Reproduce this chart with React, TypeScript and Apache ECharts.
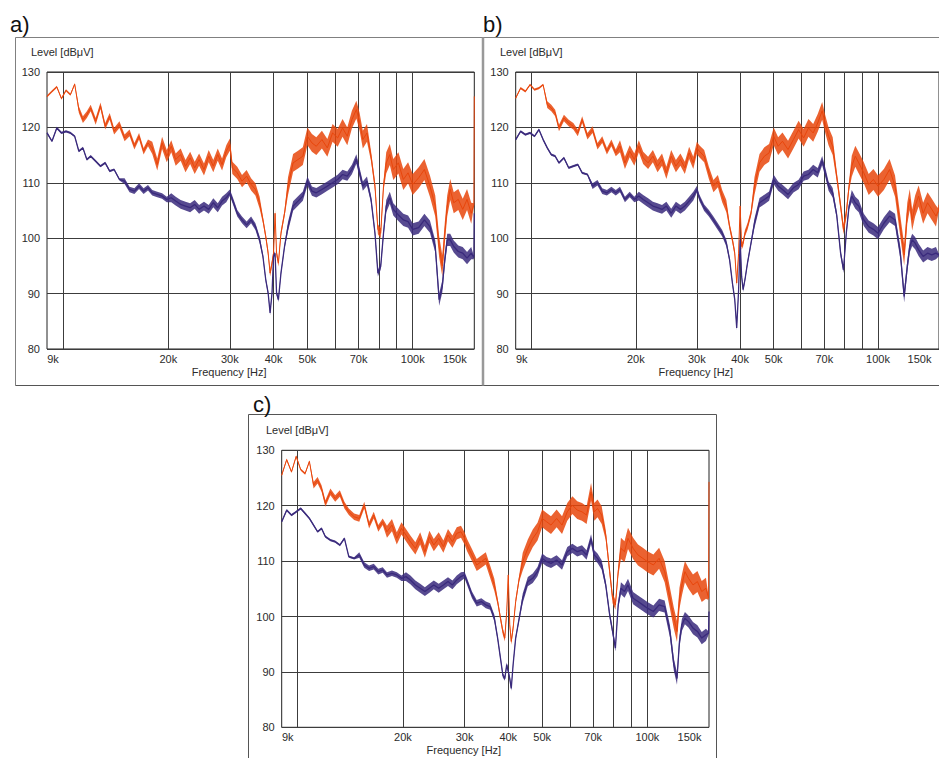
import React, { useEffect, useRef } from 'react';
import * as echarts from 'echarts';

// Frequencies in kHz shared by all traces
const FREQ_KHZ = [9, 9.3, 9.6, 9.9, 10.2, 10.5, 10.8, 11.1, 11.4, 11.7, 12, 12.4, 12.8, 13.2, 13.6, 14, 14.5, 15, 15.5, 16, 16.5, 17, 17.5, 18, 18.6, 19.2, 19.8, 20.4, 21, 21.7, 22.4, 23.1, 23.8, 24.5, 25.3, 26.1, 26.9, 27.7, 28.5, 29.3, 30, 30.5, 31.5, 32.5, 33.5, 34.5, 35.5, 36.5, 37.3, 38, 38.6, 39.1, 39.6, 40, 40.4, 40.8, 41.3, 42, 43, 44, 45.5, 47, 48.5, 50, 51.5, 53, 55, 57, 59, 61, 63, 65, 67, 69, 70.5, 72, 74, 76, 78, 79.5, 81, 82.5, 84, 86, 88, 91, 94, 97, 100, 104, 108, 112, 116, 119, 121.5, 123.5, 125.5, 128, 131, 135, 139, 143, 147, 149.6, 150];

const A_ORANGE = [125.6, 126.5, 127.3, 125.2, 126.7, 125.9, 127.8, 123.2, 121.4, 122.3, 123.5, 121.1, 123.9, 120.2, 122.0, 119.3, 120.5, 118.1, 119.0, 116.6, 118.4, 115.7, 117.2, 116.3, 113.3, 117.2, 114.8, 116.6, 114.2, 115.1, 113.0, 114.5, 112.7, 114.2, 112.4, 114.8, 113.0, 115.1, 113.3, 115.7, 116.9, 112.7, 111.8, 110.3, 111.2, 109.7, 108.8, 106.4, 103.3, 100.3, 97.3, 93.7, 95.5, 97.3, 104.5, 97.3, 95.5, 100.9, 104.5, 109.4, 113.6, 114.2, 114.8, 118.4, 117.2, 116.6, 117.8, 116.3, 119.0, 118.1, 119.9, 118.4, 121.4, 123.2, 121.0, 117.8, 119.0, 114.8, 109.4, 101.6, 100.9, 109.4, 113.6, 115.1, 112.4, 113.6, 110.6, 111.8, 109.7, 110.9, 112.4, 109.4, 105.8, 98.5, 95.0, 100.9, 105.8, 108.8, 106.4, 107.0, 105.2, 107.0, 104.5, 106.0, 125.6];
const A_PURPLE = [119.0, 117.5, 119.9, 119.0, 119.3, 119.0, 118.4, 115.7, 116.3, 114.2, 114.8, 113.9, 113.0, 113.6, 112.1, 112.4, 110.6, 110.3, 108.8, 108.5, 109.4, 108.5, 109.1, 108.2, 107.9, 107.6, 107.0, 107.3, 106.7, 106.1, 105.8, 105.5, 106.1, 105.2, 105.8, 105.2, 106.4, 105.5, 106.7, 107.3, 108.2, 107.0, 104.5, 103.3, 102.4, 103.3, 102.1, 99.7, 96.7, 92.5, 90.1, 86.5, 90.1, 96.7, 97.3, 90.1, 88.9, 93.7, 98.5, 102.1, 105.8, 106.7, 107.6, 110.3, 108.5, 108.2, 108.8, 109.4, 110.0, 110.6, 111.5, 111.2, 112.4, 114.3, 111.8, 109.4, 110.3, 107.0, 100.9, 93.7, 94.9, 100.9, 105.8, 107.3, 105.2, 104.2, 103.3, 103.0, 101.6, 101.9, 103.3, 102.1, 98.5, 88.9, 91.3, 96.1, 99.7, 99.7, 98.5, 97.6, 97.3, 96.4, 97.3, 96.5, 104.5];

const B_ORANGE = [125.3, 127.1, 126.5, 127.7, 126.8, 127.1, 127.7, 124.1, 123.5, 122.6, 119.9, 121.7, 120.8, 120.2, 119.0, 121.4, 118.4, 119.6, 116.6, 117.8, 115.7, 117.2, 115.4, 116.6, 113.6, 115.7, 114.2, 116.6, 114.5, 113.6, 114.8, 113.0, 114.2, 111.8, 114.8, 113.0, 114.2, 112.7, 115.4, 113.6, 116.3, 115.7, 114.8, 111.8, 109.4, 110.3, 107.6, 105.8, 102.1, 99.7, 97.3, 91.9, 97.3, 105.8, 98.5, 99.1, 100.9, 102.1, 104.5, 109.4, 113.6, 114.8, 115.4, 118.4, 116.6, 117.5, 116.0, 117.8, 119.6, 118.1, 119.9, 119.0, 120.8, 123.0, 120.5, 118.4, 116.6, 111.2, 105.8, 101.6, 104.5, 109.4, 113.0, 114.8, 113.6, 111.8, 109.7, 110.6, 109.4, 110.6, 112.4, 109.4, 102.1, 97.0, 104.5, 107.0, 103.3, 105.8, 107.6, 104.5, 106.4, 105.2, 104.0, 105.0, 106.0];
const B_PURPLE = [117.8, 119.3, 118.7, 119.0, 118.4, 119.6, 117.8, 116.3, 115.1, 114.8, 113.6, 114.5, 112.7, 113.0, 113.3, 111.8, 111.5, 109.4, 110.0, 108.5, 108.2, 108.8, 108.2, 108.8, 107.0, 107.9, 107.0, 107.6, 107.0, 106.4, 105.8, 105.5, 105.2, 105.8, 104.5, 105.8, 105.2, 105.8, 106.7, 107.6, 108.8, 107.3, 105.5, 104.5, 103.3, 102.1, 100.9, 99.1, 96.1, 91.9, 88.9, 83.8, 90.7, 99.7, 93.1, 90.7, 92.5, 95.5, 99.1, 102.7, 106.4, 107.0, 107.6, 110.6, 109.4, 108.8, 107.9, 109.1, 109.7, 111.2, 111.5, 112.4, 111.8, 114.0, 111.8, 109.4, 108.2, 104.2, 97.3, 94.3, 100.9, 105.8, 107.6, 106.4, 105.8, 103.3, 102.1, 101.6, 100.9, 102.7, 104.0, 103.3, 97.3, 89.5, 94.9, 98.5, 99.7, 99.1, 97.9, 96.7, 97.3, 97.0, 97.3, 97.0, 97.0];

const C_ORANGE = [125.5, 128.3, 126.1, 128.9, 126.5, 125.8, 128.0, 123.7, 124.6, 123.1, 120.4, 122.5, 121.3, 122.2, 120.1, 118.9, 118.0, 117.7, 120.1, 116.5, 118.3, 115.9, 117.1, 115.3, 116.5, 114.1, 115.9, 114.7, 113.5, 112.3, 114.1, 111.7, 114.4, 112.9, 114.1, 112.6, 114.7, 113.5, 115.0, 115.3, 114.1, 112.9, 111.1, 109.3, 109.9, 110.5, 108.1, 105.7, 102.7, 99.7, 97.3, 96.1, 100.9, 107.5, 98.5, 95.5, 97.9, 102.7, 106.9, 109.9, 112.3, 114.1, 115.3, 117.7, 117.1, 116.5, 117.7, 116.5, 118.9, 120.1, 119.2, 118.9, 118.3, 122.5, 118.9, 119.5, 118.3, 114.7, 108.1, 103.3, 102.1, 108.1, 112.3, 111.7, 114.1, 112.3, 111.1, 110.5, 109.9, 109.3, 110.5, 108.1, 103.3, 99.7, 97.3, 103.3, 105.7, 108.1, 106.9, 105.7, 106.3, 104.5, 105.1, 103.3, 124.3];
const C_PURPLE = [117.1, 119.2, 118.3, 118.9, 119.5, 118.6, 117.7, 116.5, 115.3, 115.9, 114.4, 113.8, 113.5, 112.9, 114.1, 110.8, 110.5, 111.1, 109.3, 108.7, 109.0, 108.1, 108.4, 107.5, 107.8, 107.5, 106.9, 107.2, 106.6, 105.7, 105.1, 104.5, 105.1, 105.7, 105.1, 105.7, 106.3, 105.7, 106.6, 107.2, 107.5, 106.3, 103.9, 102.4, 102.7, 102.1, 101.8, 99.7, 96.1, 92.5, 89.4, 88.8, 91.3, 90.1, 88.8, 87.0, 91.3, 96.1, 99.7, 103.3, 106.3, 106.9, 108.1, 110.5, 109.9, 109.6, 110.2, 109.3, 111.7, 112.3, 111.7, 112.0, 111.1, 114.0, 111.1, 110.5, 109.3, 105.7, 100.3, 97.3, 94.3, 102.1, 105.1, 104.5, 105.7, 103.3, 102.7, 102.1, 101.5, 100.9, 102.1, 101.8, 97.3, 91.3, 88.8, 95.5, 98.5, 99.7, 99.1, 97.9, 97.3, 96.1, 96.7, 97.0, 100.9];

// Thickness (dB) of the noise band of each trace, read per frequency range: [from kHz, dB]
const ORANGE_SPREAD_DB = [[9, 0.4], [11, 1.2], [18, 2.2], [37, 1.2], [44, 3.2], [76, 1.8], [84, 3.8], [149.6, 0.6]];
const PURPLE_SPREAD_DB = [[9, 0.4], [15, 1.0], [20, 1.6], [30, 1.2], [37, 0.8], [44, 1.7], [76, 1.2], [84, 2.2], [149.6, 0.6]];

const X_LABEL_KHZ = [9, 20, 30, 40, 50, 70, 100, 150];
const X_GRID_KHZ = [10, 20, 30, 40, 50, 60, 70, 80, 90, 100];
const X_MIN_KHZ = 9;
const X_MAX_KHZ = 150;
const Y_MIN = 80;
const Y_MAX = 130;
const Y_STEP = 10;
const PANEL_NAMES = ['a)', 'b)', 'c)'];
const Y_NAME = 'Level [dBμV]';
const X_NAME = 'Frequency [Hz]';

const ORANGE = '#E8460C';
const PURPLE = '#3A2A7C';
const FONT = '"Liberation Sans", Arial, Helvetica, sans-serif';
const TXT = '#2b2b2b';

const lg = (khz: number) => Math.log10(khz * 1000);
const spreadAt = (table: number[][], f: number) => {
  let s = table[0][1];
  for (const [from, db] of table) if (f >= from) s = db;
  return s;
};

const PANELS = [
  { grid: { left: 47, top: 72, width: 427.3, height: 277 }, label: [10, 24], level: [31, 52], data: [A_ORANGE, A_PURPLE] },
  { grid: { left: 515.7, top: 72, width: 428, height: 277 }, label: [483, 24], level: [500, 52], data: [B_ORANGE, B_PURPLE] },
  { grid: { left: 281.7, top: 450.3, width: 427.3, height: 277 }, label: [253, 404], level: [266, 430], data: [C_ORANGE, C_PURPLE] },
];

export default function App() {
  const ref = useRef<HTMLDivElement>(null);
  useEffect(() => {
    if (!ref.current) return;
    const chart = echarts.init(ref.current, null, { renderer: 'svg' });
    const xAxes = PANELS.map((p, i) => ({
      type: 'value',
      gridIndex: i,
      min: lg(X_MIN_KHZ),
      max: lg(X_MAX_KHZ),
      axisLine: { show: false },
      axisTick: { show: false, customValues: X_GRID_KHZ.map(lg) },
      splitLine: { show: true, lineStyle: { color: '#3c3c3c', width: 1 } },
      axisLabel: {
        customValues: X_LABEL_KHZ.map(lg),
        margin: 4,
        fontSize: 11,
        color: TXT,
        fontFamily: FONT,
        formatter: (v: number) => {
          const k = Math.round(Math.pow(10, v) / 1000);
          if (k === X_MIN_KHZ) return `{l|${k}k}`;
          if (k === X_MAX_KHZ) return `{r|${k}k}`;
          return `${k}k`;
        },
        rich: {
          l: { padding: [0, 0, 0, 12], fontSize: 11, color: TXT, fontFamily: FONT },
          r: { padding: [0, 39, 0, 0], fontSize: 11, color: TXT, fontFamily: FONT },
        },
      },
      name: X_NAME,
      nameLocation: 'middle',
      nameGap: 17,
      nameTextStyle: { fontSize: 11, color: TXT, fontFamily: FONT, padding: [0, 63, 0, 0] },
    }));
    const yAxes = PANELS.map((p, i) => ({
      type: 'value',
      gridIndex: i,
      min: Y_MIN,
      max: Y_MAX,
      interval: Y_STEP,
      axisLine: { show: false },
      axisTick: { show: false },
      splitLine: { show: true, lineStyle: { color: '#3c3c3c', width: 1 } },
      axisLabel: { fontSize: 11, color: TXT, fontFamily: FONT, margin: 7 },
    }));
    const series: any[] = [];
    PANELS.forEach((p, i) => {
      [ORANGE, PURPLE].forEach((c, j) => {
        const table = j === 0 ? ORANGE_SPREAD_DB : PURPLE_SPREAD_DB;
        const vals = p.data[j];
        const baseZ = 3 + j * 2;
        // one row per frequency: [x, low edge, high edge] of the noise band
        const bandRows: number[][] = FREQ_KHZ.map((f, k) => {
          const h = spreadAt(table, f) / 2;
          return [lg(f), vals[k] - h, vals[k] + h];
        });
        series.push({
          type: 'custom',
          xAxisIndex: i,
          yAxisIndex: i,
          silent: true,
          clip: true,
          encode: { x: 0, y: [1, 2] },
          data: bandRows,
          z: baseZ,
          renderItem: (params: any, api: any) => {
            if (params.dataIndex !== 0) return null;
            const upper = bandRows.map((r) => api.coord([r[0], r[2]]));
            const lower = bandRows.map((r) => api.coord([r[0], r[1]])).reverse();
            return {
              type: 'polygon',
              shape: { points: upper.concat(lower) },
              style: { fill: c, opacity: 0.85 },
            };
          },
        });
        series.push({
          type: 'line',
          xAxisIndex: i,
          yAxisIndex: i,
          showSymbol: false,
          symbol: 'none',
          lineStyle: { color: c, width: j === 0 ? 1 : 1.3 },
          itemStyle: { color: c },
          data: FREQ_KHZ.map((f, k) => [lg(f), vals[k]]),
          z: baseZ + 1,
        });
      });
    });
    const graphic: any[] = [
      { type: 'line', shape: { x1: 15.5, y1: 37.5, x2: 939, y2: 37.5 }, style: { stroke: '#808080', lineWidth: 1 } },
      { type: 'line', shape: { x1: 15.5, y1: 37.5, x2: 15.5, y2: 385.5 }, style: { stroke: '#808080', lineWidth: 1 } },
      { type: 'line', shape: { x1: 15.5, y1: 385.5, x2: 939, y2: 385.5 }, style: { stroke: '#555', lineWidth: 1 } },
      { type: 'line', shape: { x1: 483, y1: 37.5, x2: 483, y2: 385.5 }, style: { stroke: '#999', lineWidth: 2.5 } },
      { type: 'rect', shape: { x: 248.5, y: 414.5, width: 468, height: 360 }, style: { stroke: '#555', fill: 'none', lineWidth: 1 } },
    ];
    PANELS.forEach((p, i) => {
      graphic.push({
        type: 'text', x: p.label[0], y: p.label[1],
        style: { text: PANEL_NAMES[i], font: `22px ${FONT}`, fill: '#111', textVerticalAlign: 'middle' },
      });
      graphic.push({
        type: 'text', x: p.level[0], y: p.level[1],
        style: { text: Y_NAME, font: `11px ${FONT}`, fill: TXT, textVerticalAlign: 'middle' },
      });
    });
    chart.setOption({
      animation: false,
      backgroundColor: '#ffffff',
      grid: PANELS.map((p) => ({ ...p.grid, show: true, borderColor: '#222', borderWidth: 1, backgroundColor: 'transparent' })),
      xAxis: xAxes,
      yAxis: yAxes,
      series,
      graphic,
    });
    return () => chart.dispose();
  }, []);
  return <div ref={ref} style={{ position: 'fixed', left: 0, top: 0, width: 939, height: 758 }} />;
}
